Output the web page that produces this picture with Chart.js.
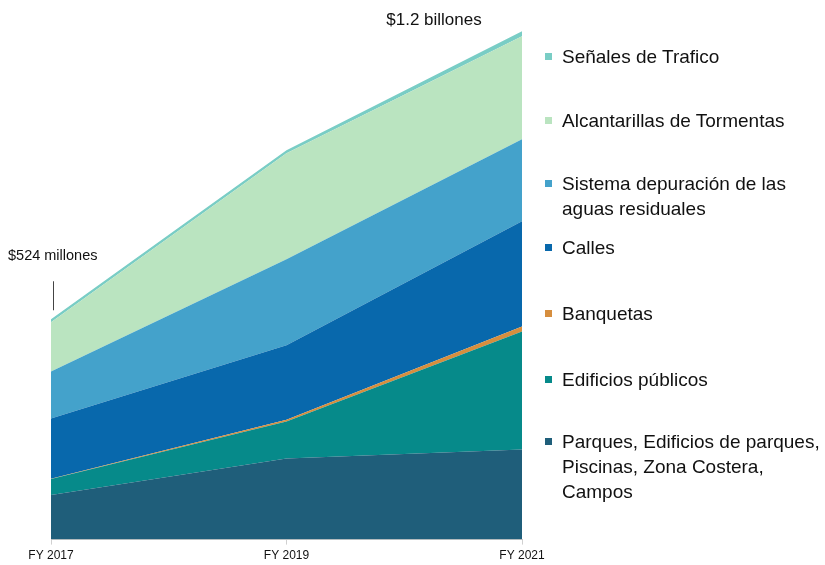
<!DOCTYPE html>
<html>
<head>
<meta charset="utf-8">
<script src="https://cdn.jsdelivr.net/npm/chart.js@4/dist/chart.umd.min.js"></script>
<style>
  html, body { margin: 0; padding: 0; background: #fff; overflow: hidden; }
  #wrap { position: relative; width: 825px; height: 565px; overflow: hidden; }
  #c { position: absolute; left: 0; top: 0; }
  .leg { position: absolute; left: 562px; font-family: "Liberation Sans", Arial, sans-serif; font-size: 19px; line-height: 25px; color: #111; white-space: nowrap; }
  .sw { position: absolute; left: -17px; top: 9px; width: 7px; height: 7px; }
</style>
</head>
<body>
<div id="wrap">
  <canvas id="c" width="825" height="570"></canvas>
</div>
<script>
// ---- data (millions) ----
const categories = ["FY 2017", "FY 2019", "FY 2021"];
const parques      = [106, 193, 214];
const edificios    = [38, 88, 281];
const banquetas    = [1, 4, 12];
const calles       = [143, 177, 250];
const sistema      = [112, 205, 195];
const alcantarillas = [117, 252, 245];
const senales      = [7, 7, 12];
const totalLabels = ["$524 millones", "$1.2 billones"];

const names = [
  "Parques, Edificios de parques,\nPiscinas, Zona Costera,\nCampos",
  "Edificios públicos",
  "Banquetas",
  "Calles",
  "Sistema depuración de las\naguas residuales",
  "Alcantarillas de Tormentas",
  "Señales de Trafico"
];
const colors = ["#1F5E7A", "#068A8A", "#D68E3E", "#0868AC", "#44A2CB", "#BAE4C0", "#79CDC5"];
const series = [parques, edificios, banquetas, calles, sistema, alcantarillas, senales];

const datasets = series.map((d, i) => ({
  label: names[i],
  data: d,
  backgroundColor: colors[i],
  borderColor: colors[i],
  borderWidth: 0,
  pointRadius: 0,
  fill: i === 0 ? 'origin' : '-1',
  tension: 0
}));

const annot = {
  id: 'annot',
  afterDraw(chart) {
    const ctx = chart.ctx;
    const xs = chart.scales.x, ys = chart.scales.y;
    const tot = categories.map((_, j) => series.reduce((s, d) => s + d[j], 0));
    ctx.save();
    const x0 = xs.getPixelForValue(0), y0 = ys.getPixelForValue(tot[0]);
    ctx.fillStyle = '#111';
    ctx.font = '14.5px "Liberation Sans", Arial, sans-serif';
    ctx.textBaseline = 'middle';
    ctx.textAlign = 'left';
    ctx.fillText(totalLabels[0], x0 - 43, y0 - 63);
    ctx.strokeStyle = '#444';
    ctx.lineWidth = 1;
    ctx.beginPath();
    ctx.moveTo(x0 + 2.5, y0 - 38);
    ctx.lineTo(x0 + 2.5, y0 - 9);
    ctx.stroke();
    const x2 = xs.getPixelForValue(2), y2 = ys.getPixelForValue(tot[2]);
    ctx.font = '17px "Liberation Sans", Arial, sans-serif';
    ctx.textAlign = 'center';
    ctx.fillText(totalLabels[1], x2 - 88, y2 - 11);
    ctx.restore();
  }
};

new Chart(document.getElementById('c'), {
  type: 'line',
  data: { labels: categories, datasets },
  options: {
    responsive: false,
    animation: false,
    layout: { padding: { left: 51, right: 303, top: 14, bottom: 3 } },
    plugins: { legend: { display: false }, tooltip: { enabled: false } },
    scales: {
      x: {
        offset: false,
        grid: { display: true, drawOnChartArea: false, tickLength: 5, color: '#d0d0d0' },
        border: { display: true, color: '#c8c8c8' },
        ticks: { padding: 4, color: '#111', maxRotation: 0, font: { family: '"Liberation Sans", Arial, sans-serif', size: 12 } }
      },
      y: {
        display: false, stacked: true, min: 0, max: 1250
      }
    }
  },
  plugins: [annot]
});

// ---- legend (HTML) ----
const legTops = [44, 108, 171, 235, 301, 367, 429];
const order = [6, 5, 4, 3, 2, 1, 0];
const wrap = document.getElementById('wrap');
order.forEach((idx, k) => {
  const div = document.createElement('div');
  div.className = 'leg';
  div.style.top = legTops[k] + 'px';
  const sw = document.createElement('span');
  sw.className = 'sw';
  sw.style.background = colors[idx];
  div.appendChild(sw);
  names[idx].split('\n').forEach((t, i) => {
    if (i > 0) div.appendChild(document.createElement('br'));
    div.appendChild(document.createTextNode(t));
  });
  wrap.appendChild(div);
});
</script>
</body>
</html>
